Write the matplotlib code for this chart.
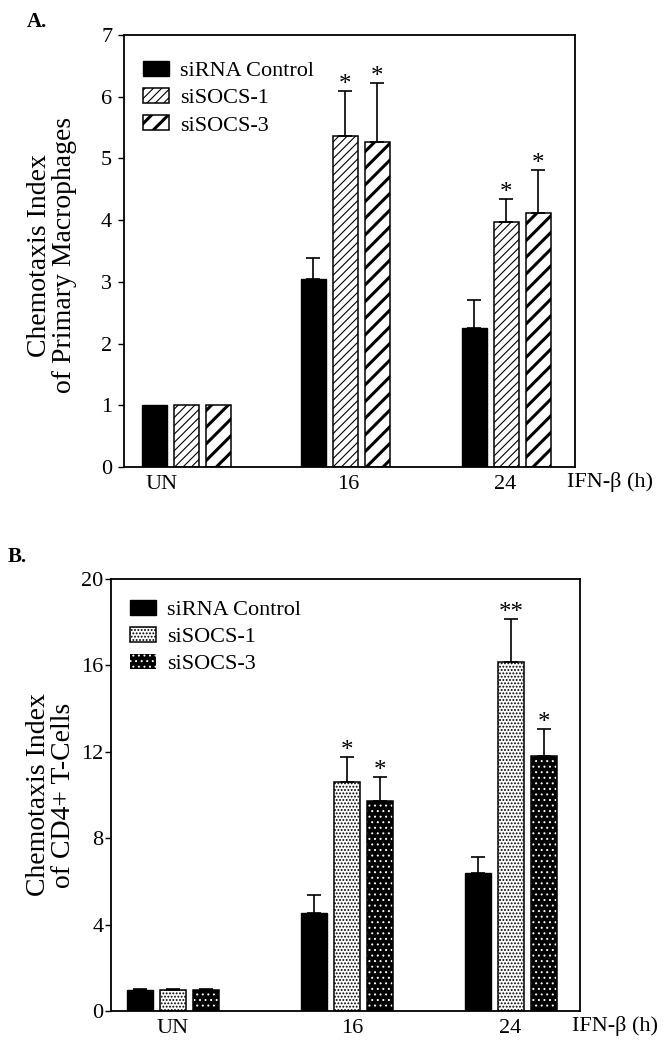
import numpy as np
import matplotlib
matplotlib.use("Agg")
import matplotlib.pyplot as plt
from matplotlib.patches import Patch

plt.rcParams['font.family'] = ['Liberation Serif', 'DejaVu Serif']
plt.rcParams['hatch.linewidth'] = 0.8

groups = ['UN', '16', '24']
series = ['siRNA Control', 'siSOCS-1', 'siSOCS-3']

# panel A - primary macrophages
ctrl_A = [1.0, 3.05, 2.25]
ctrl_A_err = [0.0, 0.33, 0.45]
s1_A = [1.0, 5.37, 3.97]
s1_A_err = [0.0, 0.73, 0.38]
s3_A = [1.0, 5.27, 4.11]
s3_A_err = [0.0, 0.95, 0.70]
stars_A = [['', '', ''], ['', '*', '*'], ['', '*', '*']]

# panel B - CD4+ T cells
ctrl_B = [0.95, 4.55, 6.40]
ctrl_B_err = [0.05, 0.82, 0.74]
s1_B = [0.95, 10.59, 16.14]
s1_B_err = [0.05, 1.16, 2.0]
s3_B = [0.95, 9.74, 11.82]
s3_B_err = [0.05, 1.08, 1.24]
stars_B = [['', '', ''], ['', '*', '**'], ['', '*', '*']]

W, H = 671, 1049
fig = plt.figure(figsize=(W / 100, H / 100), dpi=100)


def px_axes(left, top, right, bottom):
    return fig.add_axes([left / W, 1 - bottom / H, (right - left) / W, (bottom - top) / H])


def hatch_lw(bars, lw):
    for b in bars:
        if hasattr(b, 'set_hatch_linewidth'):
            b.set_hatch_linewidth(lw)


def draw_panel(ax, vals, errs, stars, centers, offsets, styles, bw, tick_x, ylim, yticks, ypad):
    centers = np.array(centers, dtype=float)
    handles = []
    for i, (v, e) in enumerate(zip(vals, errs)):
        x = centers + offsets[i]
        st = styles[i]
        if st['kind'] == 'solid':
            bars = ax.bar(x, v, bw, color='black', edgecolor='black', linewidth=1, zorder=2)
            handles.append(Patch(facecolor='black', edgecolor='black', linewidth=1))
        elif st['kind'] == 'hatch':
            bars = ax.bar(x, v, bw, color='white', edgecolor='black', hatch=st['hatch'],
                          linewidth=1.1, zorder=2)
            hatch_lw(bars, st['hlw'])
            handles.append(Patch(facecolor='white', edgecolor='black', hatch=st['hatch'],
                                 linewidth=1.1))
        else:  # white dots on black
            bars = ax.bar(x, v, bw, color='black', edgecolor='white', hatch=st['hatch'],
                          linewidth=0, zorder=2)
            hatch_lw(bars, st['hlw'])
            ax.bar(x, v, bw, fill=False, edgecolor='black', linewidth=1.1, zorder=2.5)
            handles.append(Patch(facecolor='black', edgecolor='white', hatch=st['hatch'],
                                 linewidth=0))
        v = np.array(v)
        e = np.array(e)
        m = e > 0
        ax.errorbar(x[m], v[m], yerr=[np.zeros(m.sum()), e[m]], fmt='none', ecolor='black',
                    elinewidth=1.2, capsize=5, capthick=1.2, zorder=3)
        for xi, top, s in zip(x, v + e, stars[i]):
            if s:
                ax.annotate(s, (xi, top), xytext=(0, 0), textcoords='offset points',
                            ha='center', va='baseline', fontsize=18)
    ax.set_xlim(0, ax.get_position().width * W)
    ax.set_ylim(*ylim)
    ax.set_yticks(yticks)
    ax.set_xticks(tick_x, groups)
    ax.tick_params(axis='x', length=0, labelsize=16, pad=5.5)
    ax.tick_params(axis='y', direction='out', length=4, width=1, labelsize=16, pad=ypad)
    for sp in ax.spines.values():
        sp.set_linewidth(1.3)
    ax.text(0.982, -0.035, 'IFN-\u03b2 (h)', transform=ax.transAxes, fontsize=16,
            ha='left', va='center', clip_on=False)
    return handles


def add_legend(ax, handles, styles, anchor):
    leg = ax.legend(handles, series, loc='upper left', bbox_to_anchor=anchor, frameon=False,
                    fontsize=16, handlelength=1.17, handleheight=0.68, handletextpad=0.5,
                    labelspacing=0.3, borderpad=0, borderaxespad=0)
    for p, st in zip(leg.get_patches(), styles):
        if 'hlw' in st:
            hatch_lw([p], st['hlw'])
    return leg


styles_A = [
    {'kind': 'solid'},
    {'kind': 'hatch', 'hatch': '////', 'hlw': 0.8},
    {'kind': 'hatch', 'hatch': '//', 'hlw': 2.2},
]
styles_B = [
    {'kind': 'solid'},
    {'kind': 'hatch', 'hatch': '.....', 'hlw': 0.9},
    {'kind': 'dots', 'hatch': '...', 'hlw': 0.7},
]

axA = px_axes(124, 35, 575, 467)
hA = draw_panel(axA, [ctrl_A, s1_A, s3_A], [ctrl_A_err, s1_A_err, s3_A_err], stars_A,
                [62, 221, 382], [-32, 0, 32], styles_A, 25, [38, 224, 381],
                (0, 7), np.arange(0, 8, 1), 4.5)
axA.set_ylabel('Chemotaxis Index\nof Primary Macrophages', fontsize=20, linespacing=1.0)
axA.yaxis.set_label_coords(-0.104, 0.49)
add_legend(axA, hA, styles_A, (0.042, 0.94))

axB = px_axes(111, 579, 580, 1011)
hB = draw_panel(axB, [ctrl_B, s1_B, s3_B], [ctrl_B_err, s1_B_err, s3_B_err], stars_B,
                [62, 236, 400], [-33, 0, 33], styles_B, 26, [62, 241, 399],
                (0, 20), np.arange(0, 21, 4), 1.5)
axB.set_ylabel('Chemotaxis Index\nof CD4+ T-Cells', fontsize=20, linespacing=1.0)
axB.yaxis.set_label_coords(-0.0746, 0.5)
add_legend(axB, hB, styles_B, (0.0405, 0.952))

fig.text(27 / W, 1 - 27 / H, 'A.', fontsize=15, fontweight='bold', va='baseline')
fig.text(8 / W, 1 - 562 / H, 'B.', fontsize=15, fontweight='bold', va='baseline')

fig.savefig('out.png', dpi=100)
